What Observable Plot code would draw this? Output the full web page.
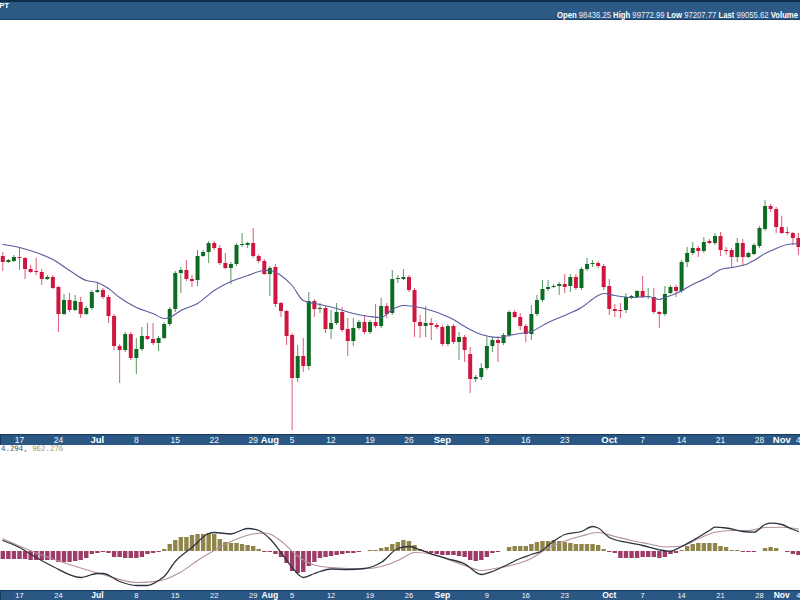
<!DOCTYPE html>
<html><head><meta charset="utf-8">
<script src="https://cdn.jsdelivr.net/npm/d3@7"></script>
<script src="https://cdn.jsdelivr.net/npm/@observablehq/plot@0.6"></script>
<style>
body{margin:0;background:#fff;}
#wrap{position:relative;width:800px;height:600px;overflow:hidden;background:#fff;font-family:"Liberation Sans",Arial,sans-serif;}
#wrap>div{position:absolute;left:0;}
#hdr{top:0;width:800px;height:20px;background:linear-gradient(#0f2d4d 0,#0f2d4d 2px,#2c5985 2px,#2c5985 19px,#1c4066 19px);}
#sym{position:absolute;left:-1px;top:1px;font-size:8px;font-weight:bold;color:#fff;line-height:10px;}
#ohlc{position:absolute;left:557px;top:10px;font-size:8.5px;line-height:10px;white-space:nowrap;color:#e4ecf4;transform-origin:0 0;}
#ohlc b{color:#fff;}
#main{top:20px;}
#axis1{top:434px;}
#leg{top:444px;left:1px !important;font-family:"DejaVu Sans Mono",monospace;font-size:7.4px;white-space:nowrap;color:#4d5868;}
#macd{top:455px;}
#axis2{top:590px;}
</style></head>
<body>
<div id="wrap">
  <div id="hdr">
    <span id="sym">PT</span>
    <span id="ohlc"><b>Open</b> 98436.25 <b>High</b> 99772.99 <b>Low</b> 97207.77 <b>Last</b> 99055.62 <b>Volume</b></span>
  </div>
  <div id="main"></div>
  <div id="axis1"></div>
  <div id="leg">4.294, <span style="color:#ab9d66">962.276</span></div>
  <div id="macd"></div>
  <div id="axis2"></div>
</div>
<script>
// ---- daily candles (price units) ----
const dates = [
"2024-06-14","2024-06-15","2024-06-16","2024-06-17","2024-06-18","2024-06-19","2024-06-20","2024-06-21","2024-06-22","2024-06-23","2024-06-24","2024-06-25","2024-06-26","2024-06-27","2024-06-28","2024-06-29","2024-06-30",
"2024-07-01","2024-07-02","2024-07-03","2024-07-04","2024-07-05","2024-07-06","2024-07-07","2024-07-08","2024-07-09","2024-07-10","2024-07-11","2024-07-12","2024-07-13","2024-07-14","2024-07-15","2024-07-16","2024-07-17","2024-07-18","2024-07-19","2024-07-20","2024-07-21","2024-07-22","2024-07-23","2024-07-24","2024-07-25","2024-07-26","2024-07-27","2024-07-28","2024-07-29","2024-07-30","2024-07-31",
"2024-08-01","2024-08-02","2024-08-03","2024-08-04","2024-08-05","2024-08-06","2024-08-07","2024-08-08","2024-08-09","2024-08-10","2024-08-11","2024-08-12","2024-08-13","2024-08-14","2024-08-15","2024-08-16","2024-08-17","2024-08-18","2024-08-19","2024-08-20","2024-08-21","2024-08-22","2024-08-23","2024-08-24","2024-08-25","2024-08-26","2024-08-27","2024-08-28","2024-08-29","2024-08-30","2024-08-31",
"2024-09-01","2024-09-02","2024-09-03","2024-09-04","2024-09-05","2024-09-06","2024-09-07","2024-09-08","2024-09-09","2024-09-10","2024-09-11","2024-09-12","2024-09-13","2024-09-14","2024-09-15","2024-09-16","2024-09-17","2024-09-18","2024-09-19","2024-09-20","2024-09-21","2024-09-22","2024-09-23","2024-09-24","2024-09-25","2024-09-26","2024-09-27","2024-09-28","2024-09-29","2024-09-30",
"2024-10-01","2024-10-02","2024-10-03","2024-10-04","2024-10-05","2024-10-06","2024-10-07","2024-10-08","2024-10-09","2024-10-10","2024-10-11","2024-10-12","2024-10-13","2024-10-14","2024-10-15","2024-10-16","2024-10-17","2024-10-18","2024-10-19","2024-10-20","2024-10-21","2024-10-22","2024-10-23","2024-10-24","2024-10-25","2024-10-26","2024-10-27","2024-10-28","2024-10-29","2024-10-30","2024-10-31",
"2024-11-01","2024-11-02","2024-11-03","2024-11-04"];
const opens = [
194,188,189,193,192,181,179,178,171,173,163,136,150,140,148,136,142,
158,160,153,134,104,100,116,92,101,114,111,107,112,126,141,177,180,171,170,194,198,207,202,187,182,186,205,205,207,194,189,
176,183,147,139,115,72,94,84,149,141,142,121,127,138,121,109,122,128,118,128,124,144,137,171,171,173,160,128,124,127,125,
123,106,124,108,113,96,71,73,82,104,110,107,115,138,133,124,116,136,150,161,163,164,166,164,173,162,181,186,187,184,
164,141,140,140,153,153,159,153,153,138,136,157,163,159,188,197,202,199,209,207,214,200,200,193,207,193,196,204,221,244,241,
223,218,217,212];
const highs = [
198,191,195,202,193,185,192,181,175,175,164,156,157,155,153,144,160,
168,162,155,136,106,118,118,112,123,127,127,114,128,143,179,183,190,175,200,200,209,209,205,197,188,207,217,208,222,196,191,
184,186,148,140,117,105,112,158,151,147,144,140,147,143,132,132,130,135,130,146,152,147,180,175,181,175,162,135,144,132,127,
125,126,126,118,115,103,75,87,113,113,114,117,140,140,137,126,145,155,170,170,166,168,176,176,176,183,192,190,189,186,
171,146,147,157,155,160,174,162,162,139,164,165,165,190,203,208,204,213,211,217,218,203,202,212,211,198,207,224,250,246,243,
234,223,218,217];
const lows = [
179,187,188,180,171,177,175,165,170,161,118,135,138,139,132,135,140,
157,151,127,100,67,98,90,76,99,110,105,99,111,124,138,157,169,163,164,193,187,200,185,181,166,184,203,202,192,187,175,
154,143,133,105,20,68,78,80,133,137,117,111,125,118,94,104,120,116,116,122,122,132,135,167,170,158,113,112,113,110,121,
104,104,106,90,88,57,68,70,80,98,88,105,113,132,120,108,110,134,148,159,162,155,157,158,160,160,179,183,182,160,
135,133,132,137,151,152,152,151,136,122,134,156,153,157,183,195,193,197,206,205,194,195,183,188,184,192,195,202,219,238,217,
216,215,205,195];
const closes = [
188,190,193,192,181,178,178,171,173,162,136,150,140,149,136,142,158,
160,153,134,104,100,116,92,101,114,111,107,112,126,141,177,180,171,169,194,198,207,202,187,182,186,205,206,207,194,189,176,
182,146,139,114,72,94,84,149,141,142,121,127,138,120,109,122,128,118,128,124,144,136,171,172,173,160,128,124,127,125,123,
106,124,108,113,100,71,73,82,104,110,107,115,138,133,124,116,136,150,161,163,164,166,163,173,162,181,186,187,184,163,
141,139,139,153,154,159,153,154,138,136,156,163,159,188,197,202,199,208,207,214,200,199,193,207,193,197,205,222,244,241,223,
217,217,212,203];

// ---- moving average line ----
const maDates = ["2024-06-14","2024-06-17","2024-06-20","2024-06-23","2024-06-26","2024-06-29","2024-07-01","2024-07-03","2024-07-05","2024-07-08","2024-07-11","2024-07-13","2024-07-14","2024-07-16","2024-07-19","2024-07-22","2024-07-25","2024-07-28","2024-07-31","2024-08-01","2024-08-03","2024-08-05","2024-08-07","2024-08-10","2024-08-13","2024-08-16","2024-08-19","2024-08-21","2024-08-23","2024-08-25","2024-08-27","2024-08-30","2024-09-01","2024-09-03","2024-09-05","2024-09-08","2024-09-11","2024-09-13","2024-09-15","2024-09-17","2024-09-20","2024-09-23","2024-09-26","2024-09-29","2024-09-30","2024-10-02","2024-10-05","2024-10-08","2024-10-10","2024-10-11","2024-10-13","2024-10-16","2024-10-19","2024-10-21","2024-10-23","2024-10-26","2024-10-27","2024-10-29","2024-10-31","2024-11-02","2024-11-04"];
const maValues = [206,203,198,191,180,170,168,162,153,143,137,132,133,140,147,160,169,175,180,180,175,165,150,146,142,137,134,133,141,145,144,140,136,131,124,116,113,115,117,119,128,135,143,155,157,155,153,154,151,153,157,166,174,181,183,187,190,197,202,206,207];

// ---- MACD panel ----
const histValues = [
-8,-8,-8,-8,-8,-9,-9,-9,-9,-9,-11,-11,-11,-10,-9,-7,-3,
-2,-1,-2,-6,-6,-7,-7,-7,-6,-3,-2,-1,2,7,11,14,14,16,17,17,18,17,12,9,8,8,7,6,5,2,-1,
-1,-3,-6,-12,-20,-22,-21,-15,-11,-7,-6,-5,-4,-3,-2,-2,-1,0,1,1,3,4,7,9,11,10,6,2,-1,-2,-3,
-4,-4,-4,-5,-6,-9,-10,-9,-6,-2,-1,0,4,5,5,5,7,9,10,10,11,10,9,8,7,7,7,7,6,2,
-1,-2,-7,-7,-7,-7,-6,-6,-6,-7,-6,-3,-2,1,5,7,8,8,8,8,5,4,1,1,-1,-1,-1,0,3,4,3,
0,-1,-3,-4];
const macdDates = ["2024-06-14","2024-06-17","2024-06-20","2024-06-23","2024-06-28","2024-07-01","2024-07-02","2024-07-05","2024-07-08","2024-07-10","2024-07-12","2024-07-13","2024-07-15","2024-07-18","2024-07-21","2024-07-22","2024-07-25","2024-07-27","2024-07-28","2024-07-30","2024-08-01","2024-08-03","2024-08-05","2024-08-07","2024-08-09","2024-08-10","2024-08-12","2024-08-15","2024-08-18","2024-08-21","2024-08-24","2024-08-26","2024-08-28","2024-08-30","2024-09-02","2024-09-05","2024-09-08","2024-09-10","2024-09-12","2024-09-15","2024-09-17","2024-09-19","2024-09-20","2024-09-22","2024-09-23","2024-09-26","2024-09-28","2024-09-29","2024-10-01","2024-10-04","2024-10-07","2024-10-10","2024-10-12","2024-10-14","2024-10-16","2024-10-19","2024-10-20","2024-10-22","2024-10-25","2024-10-27","2024-10-29","2024-10-30","2024-11-01","2024-11-03","2024-11-04"];
const macdValues = [11,4,-6,-15,-26,-22,-22,-30,-34,-34,-29,-25,-10,4,18,19,17.5,21.5,23,21,12.7,-1,-16,-26,-22,-20,-17.5,-18,-17,-11,3,5,1.7,-2.3,-7.3,-12.3,-23,-20,-15,-7,-3,1,6,14,17,20,25,23.5,14,9.3,6,1.7,0.3,5,11,21,24.3,23.5,20,19.3,27,28.3,27,22,20];
const signalDates = ["2024-06-14","2024-06-20","2024-06-26","2024-07-02","2024-07-08","2024-07-12","2024-07-16","2024-07-19","2024-07-23","2024-07-25","2024-07-29","2024-07-31","2024-08-01","2024-08-03","2024-08-06","2024-08-09","2024-08-12","2024-08-18","2024-08-21","2024-08-24","2024-08-25","2024-08-27","2024-08-30","2024-09-02","2024-09-05","2024-09-08","2024-09-11","2024-09-14","2024-09-17","2024-09-20","2024-09-23","2024-09-26","2024-09-29","2024-10-02","2024-10-05","2024-10-08","2024-10-11","2024-10-14","2024-10-17","2024-10-20","2024-10-23","2024-10-26","2024-10-29","2024-11-01","2024-11-04"];
const signalValues = [12.7,-1.5,-13,-23,-31,-29.5,-20.5,-9,4.3,10,17.5,18.5,17.5,10.5,-4.5,-13.5,-16,-17.3,-15,-9,-6,-1,-2.5,-8,-14,-19,-16.5,-13,-7,3.5,10.5,15.5,19,15,11,7.7,4.5,5.5,12.7,19.3,21,21,24,24.3,22.5];

// ---- date axis labels ----
const tickDates = ["2024-06-17","2024-06-24","2024-07-01","2024-07-08","2024-07-15","2024-07-22","2024-07-29","2024-08-01","2024-08-05","2024-08-12","2024-08-19","2024-08-26","2024-09-01","2024-09-09","2024-09-16","2024-09-23","2024-10-01","2024-10-07","2024-10-14","2024-10-21","2024-10-28","2024-11-01","2024-11-04"];
const tickLabels = ["17","24","Jul","8","15","22","29","Aug","5","12","19","26","Sep","9","16","23","Oct","7","14","21","28","Nov","4"];

// ---- header text fitted to its width ----
const ohlc = document.getElementById("ohlc");
const w = ohlc.getBoundingClientRect().width;
ohlc.style.transform = `scaleX(${241 / w})`;

// ---- build ----
const UP = "#0d6b22", DOWN = "#d0153f";
const xDomain = [new Date("2024-06-13T14:05:00Z"), new Date("2024-11-04T08:53:00Z")];
const xOpt = {type: "utc", domain: xDomain, axis: null};
const candles = dates.map((d, i) => ({date: new Date(d), o: opens[i], h: highs[i], l: lows[i], c: closes[i]}));
const up = candles.filter(d => d.c >= d.o), down = candles.filter(d => d.c < d.o);
const ma = maDates.map((d, i) => ({date: new Date(d), v: maValues[i]}));

const main = Plot.plot({
  width: 800, height: 413, margin: 0,
  style: {background: "transparent", overflow: "visible"},
  x: xOpt,
  y: {domain: [17, 430], axis: null},
  marks: [
    Plot.ruleX(up, {x: "date", y1: "l", y2: "h", stroke: UP, strokeWidth: 1, strokeOpacity: 0.7}),
    Plot.ruleX(down, {x: "date", y1: "l", y2: "h", stroke: DOWN, strokeWidth: 1, strokeOpacity: 0.7}),
    Plot.ruleX(up, {x: "date", y1: "o", y2: "c", stroke: UP, strokeWidth: 4}),
    Plot.ruleX(down, {x: "date", y1: "o", y2: "c", stroke: DOWN, strokeWidth: 4}),
    Plot.line(ma, {x: "date", y: "v", stroke: "#5b5d9d", strokeWidth: 1.1, curve: "monotone-x"})
  ]
});
document.getElementById("main").appendChild(main);

const hist = dates.map((d, i) => ({date: new Date(d), h: histValues[i]}));
const macdLine = macdDates.map((d, i) => ({date: new Date(d), v: macdValues[i]}));
const sigLine = signalDates.map((d, i) => ({date: new Date(d), v: signalValues[i]}));
const macd = Plot.plot({
  width: 800, height: 135, margin: 0,
  style: {background: "transparent", overflow: "visible"},
  x: xOpt,
  y: {domain: [-39, 96], axis: null},
  marks: [
    Plot.ruleX(hist.filter(d => d.h > 0), {x: "date", y1: 0, y2: "h", stroke: "#8f844a", strokeWidth: 4.4}),
    Plot.ruleX(hist.filter(d => d.h < 0), {x: "date", y1: 0, y2: "h", stroke: "#9d3d67", strokeWidth: 4.4}),
    Plot.line(sigLine, {x: "date", y: "v", stroke: "#b39199", strokeWidth: 1.1, curve: "monotone-x"}),
    Plot.line(macdLine, {x: "date", y: "v", stroke: "#2c323f", strokeWidth: 1.3, curve: "monotone-x"})
  ]
});
document.getElementById("macd").appendChild(macd);

const ticks = tickDates.map((d, i) => ({date: new Date(d), label: tickLabels[i]}));
const isMonth = t => isNaN(+t.label);
function dateBar(h, fs, fsm) {
  return Plot.plot({
    width: 800, height: h, margin: 0,
    style: {background: "#2b5784", overflow: "hidden", fontFamily: "Liberation Sans, Arial, sans-serif"},
    x: xOpt,
    marks: [
      Plot.frame({stroke: "#173a5c", strokeWidth: 1}),
      Plot.text(ticks.filter(t => !isMonth(t)), {x: "date", text: "label", frameAnchor: "middle", fill: "#f2f6fa", fontSize: fs}),
      Plot.text(ticks.filter(isMonth), {x: "date", text: "label", frameAnchor: "middle", fill: "#ffffff", fontSize: fsm, fontWeight: "bold"})
    ]
  });
}
document.getElementById("axis1").appendChild(dateBar(11, 8.5, 9.5));
document.getElementById("axis2").appendChild(dateBar(10, 7.5, 8.5));
</script>
</body></html>
